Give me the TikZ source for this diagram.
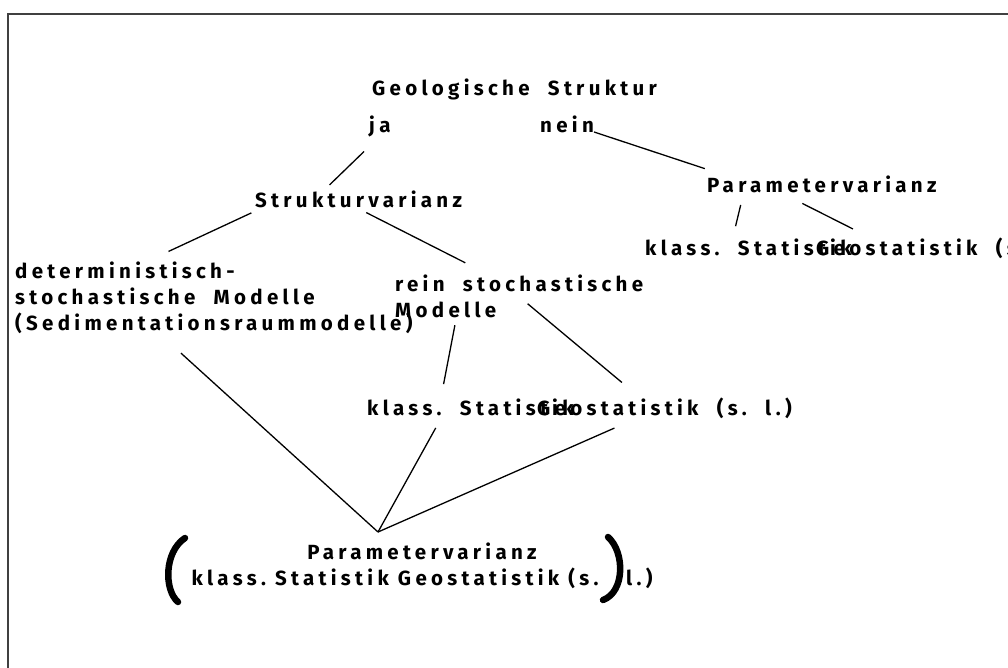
\documentclass[tikz,border=0pt]{standalone}
\usepackage{fontspec}
\setmainfont[LetterSpace=21]{Fira Sans}
\usetikzlibrary{positioning}

\tikzset{
  lbl/.style={anchor=base west, inner sep=0pt, text height=15pt, text depth=4pt},
  block/.style={anchor=north west, inner sep=0pt, align=left},
  link/.style={line width=1.3pt}
}

\begin{document}
\begin{tikzpicture}[x=1pt, y=-1pt, font=\fontsize{20.5}{26}\selectfont\bfseries]
\useasboundingbox (0,0) rectangle (1008,667);
\draw[line width=2pt, black!75] (8,14) rectangle (1100,700);

% Baum oben
\node[lbl] (geo) at (372,95) {Geologische\ \ Struktur};
\node[lbl] (ja) at (369,132) {ja};
\node[lbl] (nein) at (540,132) {nein};
\node[lbl] (struk) at (255,207) {Strukturvarianz};
\node[lbl] (parR) at (707,192) {Parametervarianz};
\node[lbl] (klassR) at (645,255) {klass.\ \ Statistik};
\node[lbl] (geoR) at (816,255) {Geostatistik\ \ (s.\ \ l.)};

% Modelle
\node[block] (determ) at (15,262) {deterministisch-\\stochastische\ \ Modelle\\(Sedimentationsraummodelle)};
\node[block] (rein) at (395,275) {rein\ \ stochastische\\Modelle};
\node[lbl] (klassM) at (367,415) {klass.\ \ Statistik};
\node[lbl] (geoM) at (537,415) {Geostatistik\ \ (s.\ \ l.)};

% unten
\node[anchor=north, inner sep=0pt, align=center] (bottom) at (422,543)
  {Parametervarianz\\klass.\ Statistik Geostatistik (s.\ \ \ l.)};
\coordinate (apex) at (378,532);

\draw[link, shorten <=22pt, shorten >=10pt] (ja.south) -- (struk.165);
\draw[link, shorten >=26pt] (nein.base east) -- (parR.174.6);
\draw[link, shorten <=9pt, shorten >=14pt] (parR.-173) -- (klassR.149);
\draw[link, shorten <=16pt, shorten >=24pt] (parR.-164.5) -- (geoR.172.4);
\draw[link, shorten <=4pt, shorten >=25pt] (struk.south west) -- (determ.152);
\draw[link, shorten <=3pt, shorten >=27pt] (struk.-63) -- (rein.144);
\draw[link, shorten <=7pt, shorten >=16pt] (rein.-161) -- (klassM.162);
\draw[link, shorten <=11pt, shorten >=27pt] (rein.center) -- (geoM.156.8);
\draw[link, shorten <=28pt] (determ.-146.6) -- (apex);
\draw[link, shorten <=10pt] (klassM.-162.8) -- (apex);
\draw[link, shorten <=22pt] (geoM.-162.8) -- (apex);

% Klammern
\draw[line width=6.5pt, line cap=round] (185,538) .. controls (164,552) and (164,590) .. (178,602);
\draw[line width=6.5pt, line cap=round] (608,537) .. controls (625,552) and (625,592) .. (603,600);
\end{tikzpicture}
\end{document}
